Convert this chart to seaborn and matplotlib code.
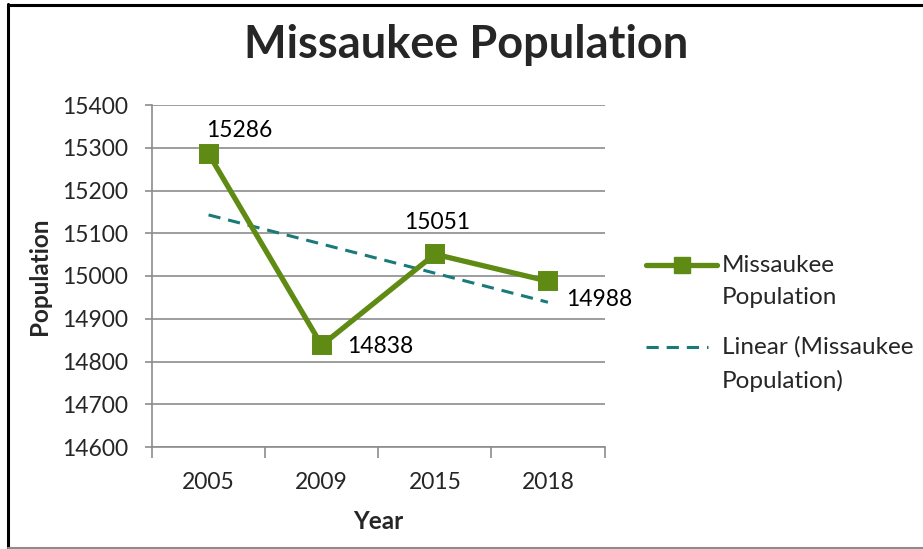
import matplotlib
matplotlib.use("Agg")
import matplotlib.pyplot as plt
from matplotlib.lines import Line2D
from matplotlib.ticker import MultipleLocator, FixedLocator
import numpy as np
import pandas as pd
import seaborn as sns

years = ["2005", "2009", "2015", "2018"]
population = [15286, 14838, 15051, 14988]
title = "Missaukee Population"
series_label = ["Missaukee", "Population"]
trend_label = ["Linear (Missaukee", "Population)"]

green = "#5F8B14"
teal = "#1A7A7A"
grid_gray = "#8C8C8C"
fs = 16.5
W, H = 923, 549

sns.set_theme(style="white")
plt.rcParams["font.family"] = ["Lato", "DejaVu Sans"]

df = pd.DataFrame({"Year": years, "Population": population, "idx": np.arange(len(years))})

fig = plt.figure(figsize=(W / 100, H / 100), dpi=100)
ax = fig.add_axes([152 / W, 1 - 447 / H, 452.5 / W, 342 / H])

sns.pointplot(data=df, x="Year", y="Population", ax=ax, color=green,
              markers="s", markersize=12, linewidth=3.8, errorbar=None,
              zorder=4)
for ln in ax.lines:
    ln.set_markeredgecolor(green)

sns.regplot(data=df, x="idx", y="Population", ax=ax, scatter=False, ci=None,
            truncate=True,
            line_kws=dict(color=teal, lw=2.2, dashes=(4, 2.6), zorder=3))

ax.set_xlim(-0.5, len(years) - 0.5)
ax.set_ylim(14600, 15400)
ax.yaxis.set_major_locator(MultipleLocator(100))
ax.set_xticks(range(len(years)))
ax.set_xticklabels(years)
ax.xaxis.set_minor_locator(FixedLocator(np.arange(-0.5, len(years), 1.0)))

ax.grid(axis="y", color=grid_gray, lw=1.2)
ax.grid(axis="x", visible=False)
ax.set_axisbelow(True)
for side in ("top", "right"):
    ax.spines[side].set_visible(False)
for side in ("left", "bottom"):
    ax.spines[side].set_color(grid_gray)
    ax.spines[side].set_linewidth(1.2)

ax.tick_params(axis="y", which="major", length=5, width=1.2, color=grid_gray,
               labelsize=fs, pad=12, left=True)
ax.tick_params(axis="x", which="major", length=0, labelsize=fs, pad=18)
ax.tick_params(axis="x", which="minor", length=8, width=1.2, color=grid_gray,
               bottom=True)

ax.set_xlabel("Year", fontsize=17.5, fontweight="bold", labelpad=12)
ax.set_ylabel("Population", fontsize=17.5, fontweight="bold", labelpad=8)

offsets = [(22, 17), (42, -1), (2, 23), (37, -13)]
for i, (v, off) in enumerate(zip(population, offsets)):
    ax.annotate(f"{v}", (i, v), xytext=off, textcoords="offset points",
                ha="center", va="center", fontsize=fs, color="black")

fig.suptitle(title, x=466 / W, y=1 - 45 / H, va="center",
             fontsize=32.5, fontweight="bold")


def px(x, y):
    return x / W, 1 - y / H


leg_fs = 17.5

# legend: series entry
(x0, y0), (x1, _) = px(646, 265), px(717, 265)
fig.add_artist(Line2D([x0, x1], [y0, y0], transform=fig.transFigure,
                      color=green, lw=3.8, solid_capstyle="round"))
fig.add_artist(Line2D([(x0 + x1) / 2], [y0], transform=fig.transFigure,
                      color=green, marker="s", markersize=12, lw=0))
for txt, yy in zip(series_label, (265, 298)):
    fig.text(*px(722, yy), txt, fontsize=leg_fs, va="center", ha="left")

# legend: trend entry
(x0, y0), (x1, _) = px(646, 347), px(708, 347)
fig.add_artist(Line2D([x0, x1], [y0, y0], transform=fig.transFigure,
                      color=teal, lw=2.2, dashes=(4, 2.6)))
for txt, yy in zip(trend_label, (347, 381)):
    fig.text(*px(722, yy), txt, fontsize=leg_fs, va="center", ha="left")

# chart frame
fig.add_artist(Line2D([8 / W, 8 / W], [1 - 4 / H, 1 - 548 / H],
                      transform=fig.transFigure, color="black", lw=2.2))
fig.add_artist(Line2D([8 / W, 1.0], [1 - 5 / H, 1 - 5 / H],
                      transform=fig.transFigure, color="black", lw=2.2))
fig.add_artist(Line2D([8 / W, 1.0], [1 - 548 / H, 1 - 548 / H],
                      transform=fig.transFigure, color="#8C8C8C", lw=1.5))

fig.savefig("out.png", dpi=100)
